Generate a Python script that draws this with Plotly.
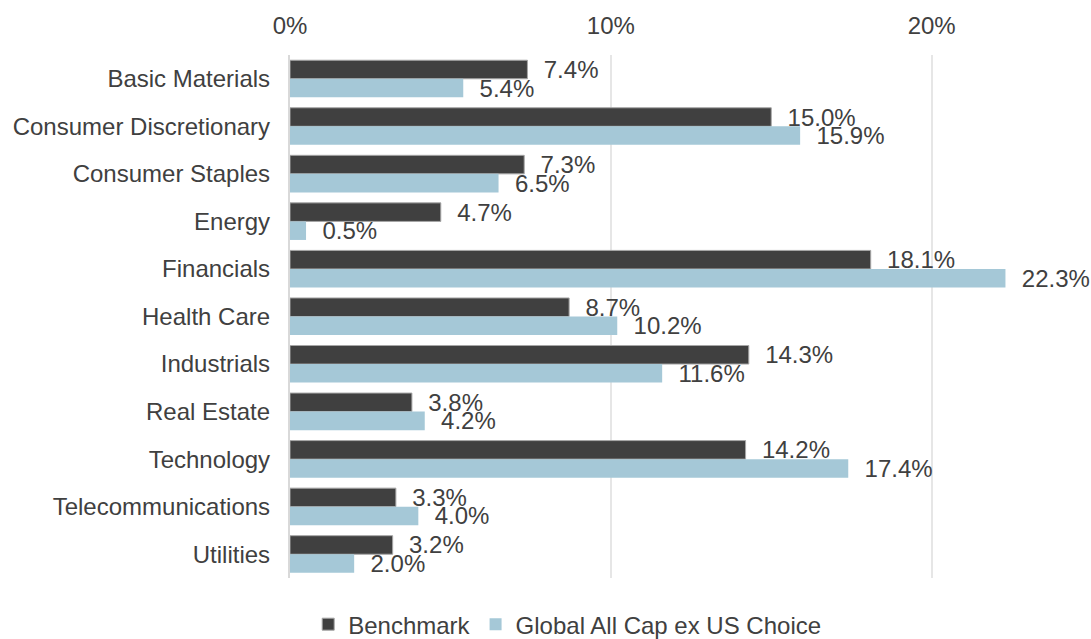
import plotly.graph_objects as go

sectors = ["Basic Materials", "Consumer Discretionary", "Consumer Staples", "Energy",
           "Financials", "Health Care", "Industrials", "Real Estate", "Technology",
           "Telecommunications", "Utilities"]
benchmark = [7.4, 15.0, 7.3, 4.7, 18.1, 8.7, 14.3, 3.8, 14.2, 3.3, 3.2]
fund = [5.4, 15.9, 6.5, 0.5, 22.3, 10.2, 11.6, 4.2, 17.4, 4.0, 2.0]

txt = "#404040"
fs = 24
fig = go.Figure()
fig.add_trace(go.Bar(
    y=sectors, x=benchmark, orientation="h", name="Benchmark",
    marker=dict(color="#404040", line=dict(color="#a6a6a6", width=1)),
    text=[f"  {v:.1f}%" for v in benchmark], textposition="outside",
    textfont=dict(size=fs, color=txt), cliponaxis=False,
))
fig.add_trace(go.Bar(
    y=sectors, x=fund, orientation="h", name="Global All Cap ex US Choice",
    marker=dict(color="#a5c8d7", line=dict(color="#ffffff", width=0)),
    text=[f"  {v:.1f}%" for v in fund], textposition="outside",
    textfont=dict(size=fs, color=txt), cliponaxis=False,
))

fig.update_layout(
    width=1091, height=639,
    margin=dict(l=290, r=31, t=55, b=61, autoexpand=False),
    barmode="group", bargap=0.22, bargroupgap=0,
    paper_bgcolor="white", plot_bgcolor="white",
    font=dict(family="Liberation Sans, Arial, sans-serif", size=fs, color=txt),
    uniformtext=dict(minsize=fs, mode="show"),
    legend=dict(orientation="h", x=0.36, xanchor="center", y=-0.046, yanchor="top",
                font=dict(size=fs, color=txt), traceorder="normal"),
    xaxis=dict(side="top", range=[0, 24], tickvals=[0, 10, 20],
               ticktext=["0%", "10%", "20%"], showgrid=True, gridcolor="#e6e6e6",
               gridwidth=1.5, zeroline=False, showline=False, ticks="", ticklen=0,
               ticklabelstandoff=15,
               tickfont=dict(size=fs, color=txt), automargin=False),
    yaxis=dict(autorange="reversed", showline=True, linecolor="#d9d9d9", linewidth=1.5,
               ticks="", tickfont=dict(size=fs, color=txt), ticksuffix="  ",
               automargin=False),
)

fig.write_html("out.html", config={"displayModeBar": False},
               post_script="document.body.style.margin='0';")
